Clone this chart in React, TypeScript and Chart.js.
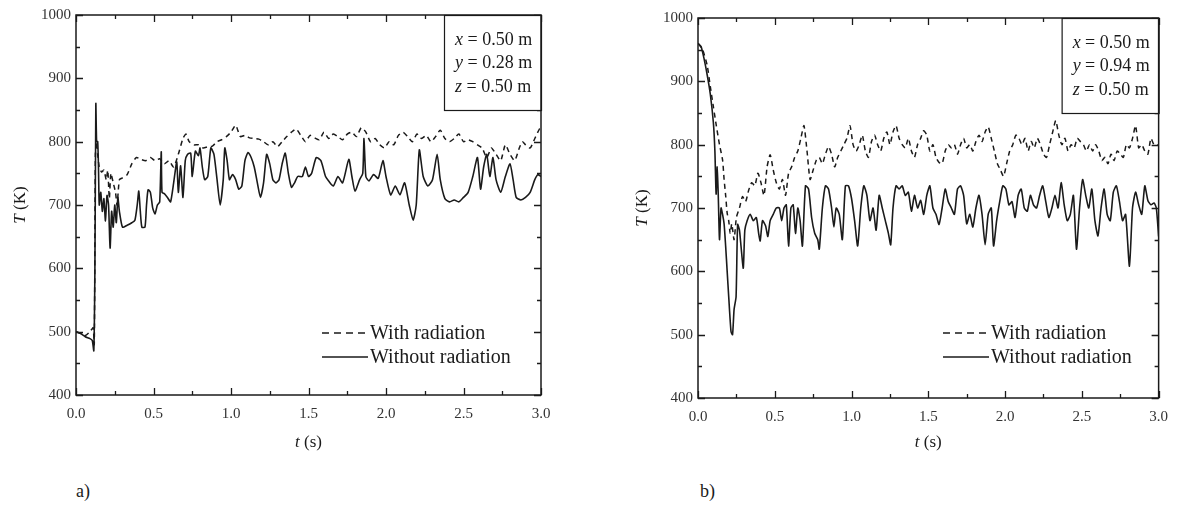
import React, { useEffect, useRef } from 'react';
import { Chart, registerables } from 'chart.js';

Chart.register(...registerables);

const FONT = '"Liberation Serif", "Times New Roman", serif';
const INK = '#1a1a1a';

// ---------- tick values ----------
const xTicks = [0, 0.5, 1.0, 1.5, 2.0, 2.5, 3.0];
const yTicks = [400, 500, 600, 700, 800, 900, 1000];
const seriesLabels = ['With radiation', 'Without radiation'];
const infoA = [['x', '0.50 m'], ['y', '0.28 m'], ['z', '0.50 m']];
const infoB = [['x', '0.50 m'], ['y', '0.94 m'], ['z', '0.50 m']];

// ---------- chart a) : y = 0.28 m ----------
const tA_with = [0.00,0.03,0.06,0.09,0.11,0.118,0.125,0.132,0.14,0.15,0.165,0.18,0.195,0.205,0.215,0.225,0.24,0.255,0.265,0.28,0.30,0.33,0.36,0.39,0.42,0.45,0.48,0.51,0.54,0.57,0.60,0.63,0.66,0.69,0.71,0.73,0.76,0.79,0.82,0.85,0.88,0.91,0.94,0.97,1.00,1.03,1.06,1.09,1.12,1.15,1.18,1.21,1.24,1.27,1.30,1.33,1.36,1.39,1.42,1.45,1.48,1.51,1.54,1.57,1.60,1.63,1.66,1.69,1.72,1.75,1.78,1.81,1.84,1.87,1.90,1.93,1.96,1.99,2.02,2.05,2.08,2.11,2.14,2.17,2.20,2.23,2.26,2.29,2.32,2.35,2.38,2.41,2.44,2.47,2.50,2.53,2.56,2.59,2.62,2.65,2.68,2.71,2.74,2.77,2.80,2.83,2.86,2.88,2.90,2.93,2.96,2.99,3.00];
const TA_with = [500,497,494,500,506,480,780,800,780,760,752,755,740,755,710,750,735,720,700,740,743,748,765,775,772,770,775,770,773,765,770,760,780,805,812,800,795,795,790,792,793,800,803,808,815,826,808,810,806,805,804,800,795,800,792,800,808,815,820,810,800,810,806,803,815,805,812,808,803,812,815,808,822,815,800,805,795,790,800,795,810,815,808,800,812,805,810,800,808,818,805,800,805,812,800,803,800,795,790,775,790,780,770,795,780,770,790,800,795,790,805,820,822];

const tA_without = [0.00,0.03,0.06,0.09,0.105,0.115,0.122,0.128,0.133,0.14,0.145,0.15,0.16,0.17,0.18,0.19,0.20,0.21,0.22,0.23,0.24,0.25,0.26,0.27,0.28,0.30,0.33,0.36,0.38,0.395,0.405,0.415,0.425,0.445,0.455,0.465,0.48,0.495,0.51,0.525,0.54,0.55,0.555,0.57,0.59,0.61,0.63,0.65,0.66,0.675,0.69,0.705,0.72,0.74,0.75,0.77,0.79,0.80,0.815,0.83,0.85,0.87,0.89,0.91,0.93,0.95,0.96,0.975,0.99,1.01,1.03,1.05,1.07,1.09,1.11,1.13,1.15,1.17,1.19,1.21,1.23,1.25,1.27,1.29,1.31,1.33,1.35,1.37,1.39,1.41,1.43,1.46,1.48,1.50,1.52,1.55,1.58,1.61,1.63,1.66,1.69,1.72,1.76,1.78,1.80,1.83,1.85,1.858,1.87,1.89,1.92,1.95,1.98,2.00,2.03,2.06,2.09,2.12,2.15,2.175,2.195,2.215,2.24,2.27,2.30,2.33,2.35,2.38,2.41,2.44,2.47,2.50,2.53,2.56,2.59,2.61,2.63,2.65,2.67,2.69,2.71,2.74,2.77,2.80,2.82,2.84,2.87,2.90,2.93,2.96,2.98,3.00];
const TA_without = [500,497,492,489,486,470,600,860,800,800,760,700,720,690,710,675,715,700,632,690,665,700,672,712,690,665,668,672,676,700,722,690,665,665,700,724,720,695,686,700,705,784,720,718,712,705,735,768,720,762,712,770,780,782,745,785,778,790,760,740,745,790,780,740,700,740,790,770,740,748,740,725,730,770,783,775,760,735,712,735,780,765,740,735,740,765,782,750,728,735,745,745,760,745,750,775,770,745,738,730,745,735,772,745,722,740,750,805,745,738,748,742,770,745,716,730,716,735,700,676,700,787,745,730,740,780,740,710,705,708,705,712,720,745,775,725,760,780,745,775,740,720,745,765,740,712,708,712,720,740,748,745];

// ---------- chart b) : y = 0.94 m ----------
const tB_with = [0.00,0.03,0.06,0.08,0.10,0.12,0.14,0.16,0.17,0.18,0.19,0.20,0.21,0.22,0.235,0.25,0.27,0.29,0.31,0.33,0.35,0.37,0.39,0.41,0.43,0.45,0.47,0.49,0.51,0.53,0.55,0.57,0.59,0.61,0.63,0.65,0.67,0.69,0.71,0.73,0.75,0.77,0.79,0.81,0.83,0.85,0.87,0.89,0.91,0.93,0.95,0.97,0.99,1.01,1.03,1.05,1.07,1.09,1.11,1.13,1.15,1.17,1.19,1.21,1.23,1.25,1.27,1.29,1.31,1.33,1.35,1.37,1.39,1.41,1.43,1.45,1.47,1.49,1.51,1.53,1.55,1.57,1.59,1.61,1.63,1.65,1.67,1.69,1.71,1.73,1.75,1.77,1.79,1.81,1.83,1.85,1.87,1.89,1.91,1.93,1.95,1.97,1.99,2.01,2.03,2.05,2.07,2.09,2.11,2.13,2.15,2.17,2.19,2.21,2.23,2.25,2.27,2.29,2.31,2.33,2.35,2.37,2.39,2.41,2.43,2.45,2.47,2.49,2.51,2.53,2.55,2.57,2.59,2.61,2.63,2.65,2.67,2.69,2.71,2.73,2.75,2.77,2.79,2.81,2.83,2.85,2.87,2.89,2.91,2.93,2.95,2.97,3.00];
const TB_with = [960,950,925,892,860,829,800,776,745,720,692,680,660,675,650,685,700,718,710,728,740,735,755,740,720,765,784,760,740,730,745,720,755,765,780,790,810,830,790,745,760,775,780,770,785,797,785,765,780,790,800,810,830,800,790,800,815,790,780,805,815,800,790,810,820,800,820,830,810,800,795,810,790,780,800,810,822,815,790,800,780,772,770,790,800,795,800,785,800,810,795,800,790,805,815,805,820,828,810,790,770,760,750,770,790,800,815,810,800,810,790,805,795,810,800,785,780,800,820,838,815,800,810,790,800,795,810,805,800,790,800,790,800,790,775,780,770,785,775,790,785,780,800,795,810,830,795,800,790,785,810,800,800];

const tB_without = [0.00,0.02,0.04,0.06,0.08,0.10,0.11,0.118,0.125,0.132,0.14,0.15,0.16,0.17,0.18,0.19,0.20,0.215,0.225,0.235,0.248,0.258,0.27,0.28,0.295,0.305,0.32,0.34,0.36,0.38,0.395,0.405,0.42,0.44,0.455,0.47,0.49,0.51,0.53,0.545,0.56,0.575,0.59,0.605,0.62,0.635,0.65,0.665,0.68,0.70,0.72,0.74,0.76,0.78,0.79,0.81,0.83,0.85,0.87,0.885,0.90,0.92,0.94,0.96,0.98,1.00,1.02,1.04,1.06,1.08,1.10,1.12,1.14,1.16,1.18,1.20,1.22,1.24,1.255,1.27,1.29,1.31,1.33,1.35,1.37,1.39,1.41,1.43,1.45,1.47,1.49,1.51,1.53,1.55,1.57,1.59,1.61,1.63,1.65,1.67,1.69,1.71,1.73,1.75,1.77,1.79,1.81,1.83,1.85,1.87,1.89,1.91,1.925,1.945,1.965,1.985,2.005,2.025,2.045,2.065,2.085,2.105,2.125,2.145,2.165,2.185,2.205,2.225,2.245,2.265,2.285,2.305,2.325,2.345,2.365,2.385,2.405,2.425,2.445,2.465,2.485,2.505,2.525,2.545,2.565,2.585,2.605,2.625,2.645,2.665,2.685,2.705,2.725,2.745,2.765,2.785,2.81,2.83,2.85,2.87,2.89,2.91,2.93,2.95,2.97,2.985,3.00];
const TB_without = [960,955,935,910,880,835,790,722,765,720,650,700,690,675,640,600,560,505,500,540,560,674,665,640,605,665,680,690,680,685,660,648,680,672,655,680,690,700,700,680,700,705,640,700,705,660,700,680,640,735,730,685,660,650,635,700,735,730,700,670,700,690,650,735,735,715,680,640,700,735,720,680,700,665,720,700,680,660,642,700,735,730,735,720,725,695,720,700,712,690,720,735,700,690,674,700,730,710,700,690,730,735,720,675,690,670,700,720,690,642,690,700,640,680,710,735,730,705,710,685,720,730,700,695,720,705,700,720,735,710,685,700,720,700,740,705,680,690,720,635,700,745,720,700,730,680,656,700,730,690,680,725,735,710,680,690,608,700,725,705,690,735,712,705,708,700,655];

function pts(t: number[], v: number[]) {
  return t.map((ti, i) => ({ x: ti, y: v[i] }));
}

type Seg = [string, boolean];

function drawMixed(ctx: CanvasRenderingContext2D, segs: Seg[], x: number, y: number, size: number, align: 'left' | 'center') {
  let total = 0;
  const widths = segs.map(([s, it]) => {
    ctx.font = `${it ? 'italic ' : ''}${size}px ${FONT}`;
    const w = ctx.measureText(s).width;
    total += w;
    return w;
  });
  let cx = align === 'center' ? x - total / 2 : x;
  ctx.textAlign = 'left';
  ctx.textBaseline = 'middle';
  segs.forEach(([s, it], i) => {
    ctx.font = `${it ? 'italic ' : ''}${size}px ${FONT}`;
    ctx.fillText(s, cx, y);
    cx += widths[i];
  });
}

const decorPlugin = {
  id: 'decor',
  afterDraw(chart: any) {
    const o = chart.options.plugins.decor;
    if (!o) return;
    const ctx: CanvasRenderingContext2D = chart.ctx;
    const a = chart.chartArea;
    const xs = chart.scales.x;
    const ys = chart.scales.y;
    ctx.save();
    ctx.strokeStyle = INK;
    ctx.fillStyle = INK;
    ctx.setLineDash([]);
    // inward ticks on all four sides
    ctx.lineWidth = 1.3;
    ctx.beginPath();
    for (let i = 0; i < xTicks.length; i++) {
      const px = Math.round(xs.getPixelForValue(xTicks[i])) + 0.5;
      ctx.moveTo(px, a.bottom); ctx.lineTo(px, a.bottom - 7);
      ctx.moveTo(px, a.top); ctx.lineTo(px, a.top + 7);
      if (i < xTicks.length - 1) {
        const pm = Math.round(xs.getPixelForValue((xTicks[i] + xTicks[i + 1]) / 2)) + 0.5;
        ctx.moveTo(pm, a.bottom); ctx.lineTo(pm, a.bottom - 4);
        ctx.moveTo(pm, a.top); ctx.lineTo(pm, a.top + 4);
      }
    }
    for (let i = 0; i < yTicks.length; i++) {
      const py = Math.round(ys.getPixelForValue(yTicks[i])) + 0.5;
      ctx.moveTo(a.left, py); ctx.lineTo(a.left + 7, py);
      ctx.moveTo(a.right, py); ctx.lineTo(a.right - 7, py);
      if (i < yTicks.length - 1) {
        const pm = Math.round(ys.getPixelForValue((yTicks[i] + yTicks[i + 1]) / 2)) + 0.5;
        ctx.moveTo(a.left, pm); ctx.lineTo(a.left + 4, pm);
        ctx.moveTo(a.right, pm); ctx.lineTo(a.right - 4, pm);
      }
    }
    ctx.stroke();

    // info box (top right)
    const bw = 97, bh = 95;
    const bx = a.right - bw, by = a.top;
    ctx.fillStyle = '#fff';
    ctx.fillRect(bx, by, bw, bh);
    ctx.fillStyle = INK;
    ctx.lineWidth = 1.2;
    ctx.strokeRect(bx + 0.5, by + 0.5, bw, bh);
    o.info.forEach((row: string[], i: number) => {
      drawMixed(ctx, [[row[0], true], [' = ' + row[1], false]], bx + 11, by + 25 + i * 23.5, 18, 'left');
    });

    // frame
    ctx.lineWidth = 1.5;
    ctx.strokeRect(a.left, a.top, a.right - a.left, a.bottom - a.top);

    // legend
    chart.data.datasets.forEach((ds: any, i: number) => {
      const yy = o.legendY + i * 24;
      ctx.lineWidth = 1.5;
      ctx.setLineDash(ds.borderDash && ds.borderDash.length ? [7, 5] : []);
      ctx.beginPath();
      ctx.moveTo(o.legendX, yy);
      ctx.lineTo(o.legendX + 46, yy);
      ctx.stroke();
      ctx.setLineDash([]);
      drawMixed(ctx, [[ds.label, false]], o.legendX + 48, yy + 1, 20, 'left');
    });

    // axis titles
    drawMixed(ctx, [['t', true], [' (s)', false]], (a.left + a.right) / 2, o.xTitleY, 17, 'center');
    ctx.save();
    ctx.translate(a.left - 55, (a.top + a.bottom) / 2);
    ctx.rotate(-Math.PI / 2);
    drawMixed(ctx, [['T', true], [' (K)', false]], 0, 0, 17, 'center');
    ctx.restore();

    ctx.restore();
  },
};

function makeConfig(
  withPts: { x: number; y: number }[],
  withoutPts: { x: number; y: number }[],
  axisWidth: number,
  padding: { left: number; top: number; right: number; bottom: number },
  decor: any
): any {
  const tickFont = { family: FONT, size: 15 };
  return {
    type: 'line',
    data: {
      datasets: [
        {
          label: seriesLabels[0],
          data: withPts,
          borderColor: INK,
          borderWidth: 1.5,
          borderDash: [5, 4],
          pointRadius: 0,
          tension: 0.2,
          fill: false,
        },
        {
          label: seriesLabels[1],
          data: withoutPts,
          borderColor: INK,
          borderWidth: 1.6,
          pointRadius: 0,
          tension: 0.2,
          fill: false,
        },
      ],
    },
    options: {
      animation: false,
      responsive: false,
      maintainAspectRatio: false,
      events: [],
      layout: { padding },
      plugins: {
        legend: { display: false },
        tooltip: { enabled: false },
        decor,
      },
      scales: {
        x: {
          type: 'linear',
          min: 0,
          max: 3,
          afterBuildTicks: (s: any) => {
            s.ticks = xTicks.map((v) => ({ value: v }));
          },
          afterFit: (s: any) => {
            s.height = 30;
          },
          grid: { display: false, drawTicks: false },
          border: { display: false },
          ticks: {
            padding: 10,
            color: '#333',
            font: tickFont,
            maxRotation: 0,
            autoSkip: false,
            callback: (v: any) => Number(v).toFixed(1),
          },
        },
        y: {
          type: 'linear',
          min: 400,
          max: 1000,
          afterBuildTicks: (s: any) => {
            s.ticks = yTicks.map((v) => ({ value: v }));
          },
          afterFit: (s: any) => {
            s.width = axisWidth;
          },
          grid: { display: false, drawTicks: false },
          border: { display: false },
          ticks: {
            padding: 5,
            color: '#333',
            font: tickFont,
            autoSkip: false,
            callback: (v: any) => String(v),
          },
        },
      },
    },
    plugins: [decorPlugin],
  };
}

export default function App() {
  const refA = useRef<HTMLCanvasElement>(null);
  const refB = useRef<HTMLCanvasElement>(null);

  useEffect(() => {
    const chartA = new Chart(
      refA.current as HTMLCanvasElement,
      makeConfig(
        pts(tA_with, TA_with),
        pts(tA_without, TA_without),
        76,
        { left: 0, top: 15, right: 59, bottom: 45 },
        { info: infoA, legendX: 322, legendY: 333, xTitleY: 443 }
      )
    );
    const chartB = new Chart(
      refB.current as HTMLCanvasElement,
      makeConfig(
        pts(tB_with, TB_with),
        pts(tB_without, TB_without),
        98,
        { left: 0, top: 18, right: 13, bottom: 42 },
        { info: infoB, legendX: 343, legendY: 333, xTitleY: 443 }
      )
    );
    return () => {
      chartA.destroy();
      chartB.destroy();
    };
  }, []);

  const labelStyle: React.CSSProperties = {
    position: 'absolute',
    top: 481,
    fontFamily: FONT,
    fontSize: 18,
    color: INK,
    lineHeight: '20px',
  };

  return (
    <div
      style={{
        position: 'fixed',
        left: 0,
        top: 0,
        width: 1178,
        height: 520,
        background: '#fff',
        overflow: 'hidden',
      }}
    >
      <canvas ref={refA} width={600} height={470} style={{ position: 'absolute', left: 0, top: 0 }} />
      <canvas ref={refB} width={578} height={470} style={{ position: 'absolute', left: 600, top: 0 }} />
      <div style={{ ...labelStyle, left: 76 }}>a)</div>
      <div style={{ ...labelStyle, left: 700 }}>b)</div>
    </div>
  );
}
